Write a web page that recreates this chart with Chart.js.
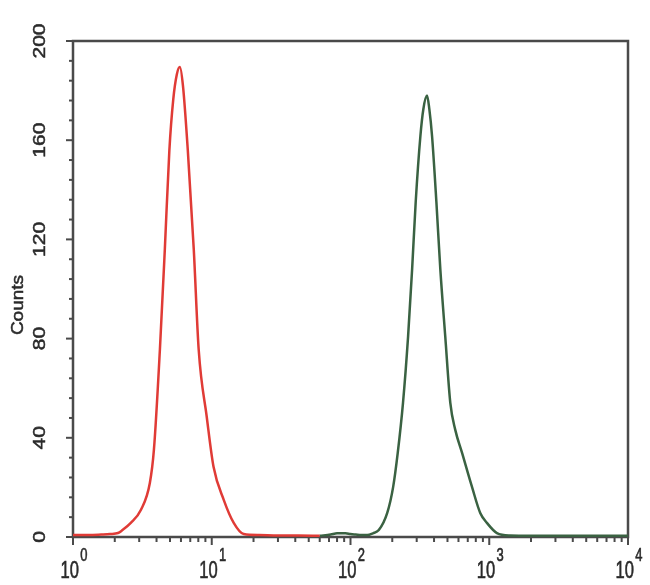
<!DOCTYPE html>
<html lang="en">
<head>
  <meta charset="UTF-8">
  <title>Counts histogram</title>
  <script src="https://cdn.jsdelivr.net/npm/chart.js"></script>
  <style>
    body {
      margin: 0;
      background: #ffffff;
    }
    #wrap {
      width: 650px;
      height: 585px;
    }
  </style>
</head>
<body>
  <div id="wrap"><canvas id="hist"></canvas></div>

  <script>
    // axis labels / ticks
    const yTitle = "Counts";
    const yLabels = [0, 40, 80, 120, 160, 200];
    const yMinor = [8, 16, 24, 32, 48, 56, 64, 72, 88, 96, 104, 112, 128, 136, 144, 152, 168, 176, 184, 192];
    const xDecades = [1, 10, 100, 1000, 10000];
    const xExponents = ["0", "1", "2", "3", "4"];
    const xMinorSteps = [2, 3, 4, 5, 6, 7, 8, 9];

    // red histogram
    const redX = [1.0, 1.3, 1.6, 1.85, 2.11, 2.25, 2.61, 3.09, 3.58, 3.83, 4.23, 4.59, 4.95, 5.28, 5.6, 5.89, 6.2, 6.72, 7.42, 8.05, 9.2, 10.3, 12.2, 14.4, 17.0, 22, 30, 42, 60];
    const redY = [0.8, 0.8, 1.0, 1.2, 1.6, 2.6, 5.7, 11, 21.8, 35.2, 75.6, 116, 156, 176.5, 186.5, 189.5, 182, 156, 116, 75.6, 48.5, 28.3, 15, 5.7, 1.2, 0.8, 0.6, 0.6, 0.5];

    // green histogram
    const greenX = [60, 72, 80, 92, 100, 109, 120, 132, 145, 160, 184, 203, 219, 239, 260, 278, 295, 319, 335, 356, 370, 387, 416, 444, 482, 524, 569, 637, 751, 861, 962, 1136, 1416, 2000, 4000, 10000];
    const greenY = [0.5, 1.0, 1.5, 1.5, 1.2, 1.0, 0.8, 0.8, 1.5, 2.8, 9.7, 20.2, 33.9, 54.1, 80.8, 107.9, 135, 161.7, 172.5, 178, 172.5, 161.7, 135, 107.9, 80.8, 54.1, 43.2, 33.9, 20.2, 9.7, 5.7, 1.6, 0.6, 0.5, 0.5, 0.5];

    const toPoints = (xs, ys) => xs.map((x, i) => ({ x: x, y: ys[i] }));

    const FONT = "'Liberation Sans', Arial, sans-serif";
    const AXIS = "#4a4a4a";
    const TEXT = "#2a2a2a";

    function boldText(ctx, s, x, y) {
      ctx.fillText(s, x, y);
      ctx.strokeText(s, x, y);
    }

    const framePlugin = {
      id: "frame",
      beforeDatasetsDraw(chart) {
        const ctx = chart.ctx;
        const a = chart.chartArea;
        const xs = chart.scales.x;
        const ys = chart.scales.y;
        ctx.save();
        ctx.strokeStyle = AXIS;
        ctx.lineWidth = 2.5;
        ctx.strokeRect(a.left, a.top, a.right - a.left, a.bottom - a.top);

        // y ticks
        ctx.lineWidth = 2;
        yLabels.forEach(v => {
          const p = ys.getPixelForValue(v);
          ctx.beginPath(); ctx.moveTo(a.left - 7, p); ctx.lineTo(a.left, p); ctx.stroke();
        });
        yMinor.forEach(v => {
          const p = ys.getPixelForValue(v);
          ctx.beginPath(); ctx.moveTo(a.left - 4, p); ctx.lineTo(a.left, p); ctx.stroke();
        });

        // x ticks
        xDecades.forEach((d, i) => {
          const p = xs.getPixelForValue(d);
          ctx.beginPath(); ctx.moveTo(p, a.bottom); ctx.lineTo(p, a.bottom + 8); ctx.stroke();
          if (i < xDecades.length - 1) {
            xMinorSteps.forEach(s => {
              const q = xs.getPixelForValue(d * s);
              ctx.beginPath(); ctx.moveTo(q, a.bottom); ctx.lineTo(q, a.bottom + 5); ctx.stroke();
            });
          }
        });

        ctx.fillStyle = TEXT;
        ctx.strokeStyle = TEXT;
        ctx.lineWidth = 0.6;
        ctx.textAlign = "center";
        ctx.textBaseline = "alphabetic";

        // y labels, rotated
        yLabels.forEach(v => {
          const p = ys.getPixelForValue(v);
          ctx.save();
          ctx.translate(45, p);
          ctx.rotate(-Math.PI / 2);
          ctx.scale(1, 0.8);
          ctx.font = "21px " + FONT;
          boldText(ctx, String(v), 0, 0);
          ctx.restore();
        });

        // y title
        ctx.save();
        ctx.translate(23, 305);
        ctx.rotate(-Math.PI / 2);
        ctx.scale(1, 0.85);
        ctx.font = "19px " + FONT;
        boldText(ctx, yTitle, 0, 0);
        ctx.restore();

        // x labels 10^n
        xDecades.forEach((d, i) => {
          const p = xs.getPixelForValue(d) + 1;
          ctx.save();
          ctx.translate(p, 0);
          ctx.scale(0.72, 1);
          ctx.font = "23px " + FONT;
          const baseW = ctx.measureText("10").width;
          ctx.font = "18px " + FONT;
          const expW = ctx.measureText(xExponents[i]).width;
          const start = -(baseW + 2 + expW) / 2;
          ctx.textAlign = "left";
          ctx.font = "23px " + FONT;
          boldText(ctx, "10", start, 578);
          ctx.font = "18px " + FONT;
          boldText(ctx, xExponents[i], start + baseW + 2, 561);
          ctx.restore();
        });
        ctx.restore();
      }
    };

    new Chart(document.getElementById("hist"), {
      type: "line",
      data: {
        datasets: [
          {
            label: "red",
            data: toPoints(redX, redY),
            borderColor: "#e03b36",
            borderWidth: 2.5,
            pointRadius: 0,
            cubicInterpolationMode: "monotone",
            fill: false,
            clip: false
          },
          {
            label: "green",
            data: toPoints(greenX, greenY),
            borderColor: "#3a6242",
            borderWidth: 2.5,
            pointRadius: 0,
            cubicInterpolationMode: "monotone",
            fill: false,
            clip: false
          }
        ]
      },
      options: {
        responsive: true,
        maintainAspectRatio: false,
        animation: false,
        layout: { padding: { left: 73, right: 22, top: 41, bottom: 48 } },
        plugins: {
          legend: { display: false },
          tooltip: { enabled: false }
        },
        scales: {
          x: { type: "logarithmic", min: 1, max: 10000, display: false },
          y: { type: "linear", min: 0, max: 200, display: false }
        }
      },
      plugins: [framePlugin]
    });
  </script>
</body>
</html>
